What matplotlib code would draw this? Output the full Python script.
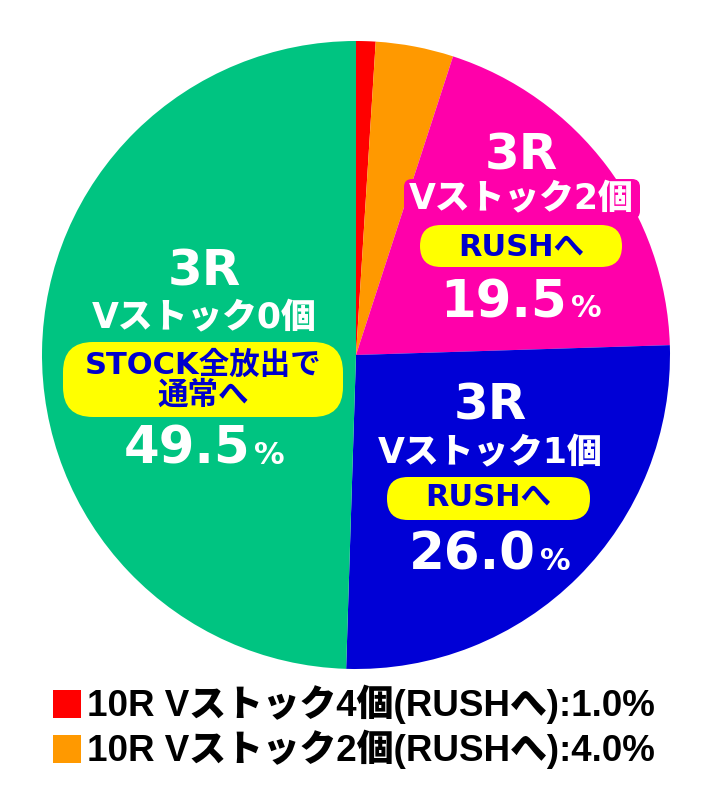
import matplotlib
matplotlib.use("Agg")
import matplotlib.pyplot as plt
from matplotlib.patches import FancyBboxPatch, Rectangle

WIDE = ['DejaVu Sans', 'Noto Sans CJK JP']        # labels inside the pie
NARROW = ['Liberation Sans', 'Noto Sans CJK JP']  # legend under the pie
plt.rcParams['font.family'] = WIDE

# slice data, clockwise from 12 o'clock
values = [1.0, 4.0, 19.5, 26.0, 49.5]
colors = ['#FF0000', '#FF9900', '#FF00AA', '#0000D6', '#00C481']

# labels of the three big slices (magenta, blue, green)
round_labels = ['3R', '3R', '3R']
stock_labels = ['Vストック2個', 'Vストック1個', 'Vストック0個']
badge_labels = ['RUSHへ', 'RUSHへ', 'STOCK全放出で\n通常へ']
pct_labels = ['19.5', '26.0', '49.5']

# legend for the two small slices
legend_labels = ['10R Vストック4個(RUSHへ):1.0%',
                 '10R Vストック2個(RUSHへ):4.0%']

W, H = 712, 808
BLUE_TXT = '#0000CC'
YELLOW = '#FFFF00'


def Y(py):
    # pixel row -> data y
    return H - py


fig = plt.figure(figsize=(W / 100, H / 100), dpi=100)
ax = fig.add_axes([0, 0, 1, 1])

ax.pie(values, colors=colors, startangle=90, counterclock=False,
       center=(356, Y(355)), radius=314,
       wedgeprops=dict(linewidth=0))
ax.set_xlim(0, W)
ax.set_ylim(0, H)
ax.set_aspect('equal')
ax.axis('off')

# layout of each label block: centre x, rows for 3R / stock / badge / pct baseline
blocks = [
    dict(cx=521, r=155, s=198, b=(420, 225, 202, 42), bt=247, p=317),
    dict(cx=490, r=406, s=452, b=(387, 477, 203, 43), bt=498, p=570),
    dict(cx=204, r=272, s=317, b=(63, 342, 280, 75), bt=380, p=464),
]

# magenta backing box behind the 2-stock line
ax.add_patch(FancyBboxPatch((404, Y(219)), 236, 40,
                            boxstyle='round,pad=0,rounding_size=8',
                            fc='#FF00AA', ec='none', zorder=2))

renderer = fig.canvas.get_renderer()
for i, b in enumerate(blocks):
    ax.text(b['cx'], Y(b['r']), round_labels[i], color='white', fontsize=36,
            fontweight='bold', ha='center', va='center', zorder=3)
    ax.text(b['cx'], Y(b['s']), stock_labels[i], color='white', fontsize=25,
            fontweight='heavy', ha='center', va='center', zorder=3)
    bx, by, bw, bh = b['b']
    ax.add_patch(FancyBboxPatch((bx, Y(by + bh)), bw, bh,
                                boxstyle='round,pad=0,rounding_size=%d' % (min(bh, 60) // 2),
                                fc=YELLOW, ec='none', zorder=3))
    ax.text(bx + bw / 2, Y(b['bt']), badge_labels[i], color=BLUE_TXT,
            fontsize=22, fontweight='bold', ha='center', va='center',
            linespacing=1.0, zorder=4)
    # percentage: big number + smaller % sign, shared baseline
    tn = ax.text(0, Y(b['p']), pct_labels[i], color='white', fontsize=37,
                 fontweight='bold', ha='left', va='baseline', zorder=3)
    tp = ax.text(0, Y(b['p']), '%', color='white', fontsize=22,
                 fontweight='bold', ha='left', va='baseline', zorder=3)
    wn = tn.get_window_extent(renderer).width
    wp = tp.get_window_extent(renderer).width
    x0 = b['cx'] - (wn + wp + 4) / 2
    tn.set_x(x0)
    tp.set_x(x0 + wn + 4)

# legend rows
for i, (lab, col) in enumerate(zip(legend_labels, colors[:2])):
    ry = 704 + i * 45
    ax.add_patch(Rectangle((53, Y(ry + 14)), 28, 28, fc=col, ec='none'))
    ax.text(87, Y(ry), lab, color='black', fontsize=26.5, fontweight='heavy',
            family=NARROW, ha='left', va='center')

fig.savefig('out.png', dpi=100)
